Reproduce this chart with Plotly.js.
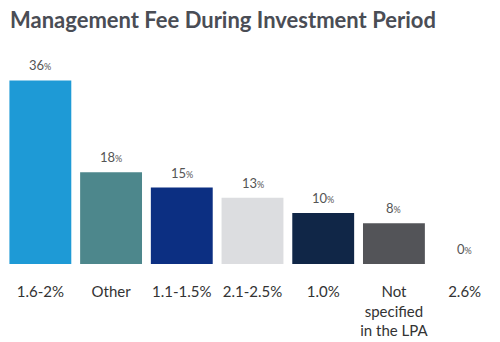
<!DOCTYPE html>
<html>
<head>
<meta charset="utf-8">
<script src="https://cdn.plot.ly/plotly-3.0.1.min.js"></script>
<style>html,body{margin:0;padding:0;background:#fff;}#chart{width:500px;height:342px;}</style>
</head>
<body>
<div id="chart"></div>
<script>
const categories = ["1.6-2%", "Other", "1.1-1.5%", "2.1-2.5%", "1.0%", "Not<br>specified<br>in the LPA", "2.6%"];
const values = [36, 18, 15, 13, 10, 8, 0];
const colors = ["#1e9ad6", "#4d878c", "#0c2f82", "#dcdde0", "#102647", "#535458", "#ffffff"];

const labels = values.map(v => v + "<span style='font-size:9px'>%</span>");

const trace = {
  type: "bar",
  x: categories,
  y: values,
  marker: {color: colors},
  hoverinfo: "none"
};

const annotations = categories.map((c, i) => ({
  x: c, y: values[i], xref: "x", yref: "y",
  text: labels[i], showarrow: false,
  yanchor: "bottom", yshift: 5,
  font: {family: "Lato, sans-serif", size: 13, color: "#555", weight: 400}
}));

const layout = {
  width: 500, height: 342,
  margin: {l: 5, r: 0, t: 60, b: 78},
  paper_bgcolor: "#fff", plot_bgcolor: "#fff",
  title: {text: "<b>Management Fee During Investment Period</b>", x: 0.02, xanchor: "left", y: 0.94, yanchor: "middle",
    font: {family: "Lato, sans-serif", size: 22, color: "#4a4d55"}},
  bargap: 0.125,
  showlegend: false,
  annotations: annotations,
  xaxis: {type: "category", showgrid: false, zeroline: false, showline: false, ticks: "",
    ticklabelstandoff: 17,
    tickfont: {family: "Lato, sans-serif", size: 15, color: "#333"}},
  yaxis: {range: [0, 40], visible: false, showgrid: false, zeroline: false}
};

Plotly.newPlot("chart", [trace], layout, {displayModeBar: false, staticPlot: true});
</script>
</body>
</html>
